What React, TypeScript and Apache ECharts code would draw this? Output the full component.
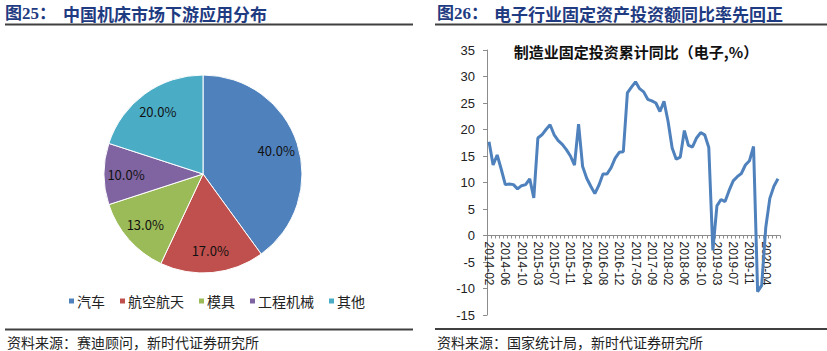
import React, { useEffect, useRef } from "react";
import * as echarts from "echarts";

const pieNames = ["汽车", "航空航天", "模具", "工程机械", "其他"];
const pieValues = [40, 17, 13, 10, 20];
const pieColors = ["#4f81bd", "#c0504d", "#9bbb59", "#8064a2", "#4bacc6"];

const months = [
  "2014-02", "2014-03", "2014-04", "2014-05", "2014-06", "2014-07", "2014-08", "2014-09", "2014-10", "2014-11", "2014-12",
  "2015-02", "2015-03", "2015-04", "2015-05", "2015-06", "2015-07", "2015-08", "2015-09", "2015-10", "2015-11", "2015-12",
  "2016-02", "2016-03", "2016-04", "2016-05", "2016-06", "2016-07", "2016-08", "2016-09", "2016-10", "2016-11", "2016-12",
  "2017-02", "2017-03", "2017-04", "2017-05", "2017-06", "2017-07", "2017-08", "2017-09", "2017-10", "2017-11", "2017-12",
  "2018-02", "2018-03", "2018-04", "2018-05", "2018-06", "2018-07", "2018-08", "2018-09", "2018-10", "2018-11", "2018-12",
  "2019-02", "2019-03", "2019-04", "2019-05", "2019-06", "2019-07", "2019-08", "2019-09", "2019-10", "2019-11", "2019-12",
  "2020-02", "2020-03", "2020-04", "2020-05", "2020-06", "2020-07",
];

const electronicsFaiYoY = [
  17.7, 13.3, 15.2, 12.5, 9.6, 9.7, 9.6, 8.8, 9.4, 9.6, 10.7,
  7.1, 18.4, 19.0, 20.0, 20.9, 19.0, 17.9, 17.2, 16.2, 15.0, 13.3,
  21.0, 13.0, 10.8, 9.3, 7.9, 9.5, 11.6, 11.6, 12.8, 14.6, 15.7,
  15.8, 26.9, 28.0, 29.0, 27.7, 27.1, 25.7, 25.4, 25.0, 23.4, 25.3,
  21.5, 16.5, 14.4, 14.8, 19.8, 17.0, 16.7, 18.4, 19.4, 19.0, 16.6,
  -2.8, 5.6, 6.8, 6.4, 8.5, 10.3, 11.1, 11.7, 13.3, 14.1, 16.8,
  -10.6, -9.4, 1.5, 7.0, 9.3, 10.7,
];

const yMin = -15;
const yMax = 35;
const yStep = 5;

const leftTitleNo = "图25：";
const leftTitle = "中国机床市场下游应用分布";
const rightTitleNo = "图26：";
const rightTitle = "电子行业固定资产投资额同比率先回正";
const lineTitle = "制造业固定投资累计同比（电子,%）";
const leftSource = "资料来源：赛迪顾问，新时代证券研究所";
const rightSource = "资料来源：国家统计局，新时代证券研究所";

const CJK = '"Noto Sans CJK SC", sans-serif';
const HEAD = '"Liberation Serif", "Noto Sans CJK SC", serif';
const headColor = "#1f3b82";

// plot area geometry of the line chart
const plotLeft = 487;
const plotRight = 47;
const plotTop = 50;
const plotBottom = 36;
const plotHeight = 351 - plotTop - plotBottom;
const zeroOffset = (plotHeight * yMax) / (yMax - yMin);

export default function App() {
  const ref = useRef<HTMLDivElement>(null);
  useEffect(() => {
    const chart = echarts.init(ref.current!, null, { renderer: "svg" });
    chart.setOption({
      animation: false,
      backgroundColor: "#ffffff",
      legend: {
        data: pieNames.map((n, i) => ({ name: n, itemStyle: { color: pieColors[i] } })),
        left: 62,
        top: 289,
        icon: "rect",
        itemWidth: 7,
        itemHeight: 7,
        itemGap: 13,
        textStyle: { fontSize: 14, color: "#222", fontFamily: CJK, padding: [0, 0, 0, -3] },
      },
      grid: [
        { left: plotLeft, right: plotRight, top: plotTop, bottom: plotBottom },
        { left: plotLeft, right: plotRight, top: plotTop, height: zeroOffset },
      ],
      xAxis: [
        {
          type: "category",
          gridIndex: 0,
          data: months,
          boundaryGap: true,
          show: false,
        },
        {
          type: "category",
          gridIndex: 1,
          data: months,
          boundaryGap: true,
          position: "bottom",
          axisLine: { show: true, lineStyle: { color: "#8c8c8c", width: 1 } },
          axisTick: { show: true, interval: 0, length: 3, lineStyle: { color: "#8c8c8c" } },
          axisLabel: {
            interval: 3,
            rotate: -90,
            fontSize: 12,
            color: "#222",
            fontFamily: '"Liberation Sans", Arial, sans-serif',
            margin: 6,
          },
          splitLine: { show: false },
        },
      ],
      yAxis: [
        {
          type: "value",
          gridIndex: 0,
          min: yMin,
          max: yMax,
          interval: yStep,
          splitLine: { show: false },
          axisLine: { show: true, lineStyle: { color: "#8c8c8c", width: 1 } },
          axisTick: { show: true, length: 4, lineStyle: { color: "#8c8c8c" } },
          axisLabel: {
            fontSize: 13,
            color: "#222",
            fontFamily: '"Liberation Sans", Arial, sans-serif',
            margin: 12,
          },
        },
        { type: "value", gridIndex: 1, show: false, min: 0, max: yMax },
      ],
      series: [
        {
          type: "pie",
          center: [203, 174],
          radius: [0, 99],
          startAngle: 90,
          clockwise: true,
          silent: true,
          data: pieNames.map((n, i) => ({ name: n, value: pieValues[i], itemStyle: { color: pieColors[i] } })),
          itemStyle: { borderColor: "#ffffff", borderWidth: 1 },
          label: { show: false },
          labelLine: { show: false },
        },
        {
          type: "pie",
          center: [203, 174],
          radius: [49, 99],
          startAngle: 90,
          clockwise: true,
          silent: true,
          legendHoverLink: false,
          data: pieNames.map((n, i) => ({ name: n, value: pieValues[i], itemStyle: { color: "rgba(0,0,0,0)" } })),
          itemStyle: { borderWidth: 0 },
          label: {
            show: true,
            position: "inside",
            formatter: (p: any) => Number(p.value).toFixed(1) + "%",
            fontSize: 13,
            color: "#111",
            fontFamily: CJK,
          },
          labelLine: { show: false },
        },
        {
          type: "line",
          xAxisIndex: 0,
          yAxisIndex: 0,
          data: electronicsFaiYoY,
          symbol: "none",
          showSymbol: false,
          lineStyle: { color: "#4f81bd", width: 3 },
          itemStyle: { color: "#4f81bd" },
        },
      ],
      graphic: [
        { type: "text", x: 5, y: 13, style: { text: leftTitleNo, fill: headColor, fontSize: 17, fontWeight: "bold", fontFamily: HEAD, verticalAlign: "middle" } },
        { type: "text", x: 63, y: 13, style: { text: leftTitle, fill: headColor, fontSize: 17, fontWeight: "bold", fontFamily: CJK, verticalAlign: "middle" } },
        { type: "text", x: 437, y: 13, style: { text: rightTitleNo, fill: headColor, fontSize: 17, fontWeight: "bold", fontFamily: HEAD, verticalAlign: "middle" } },
        { type: "text", x: 494, y: 13, style: { text: rightTitle, fill: headColor, fontSize: 17, fontWeight: "bold", fontFamily: CJK, verticalAlign: "middle" } },
        { type: "rect", shape: { x: 5, y: 23.5, width: 408, height: 2 }, style: { fill: "#404040" } },
        { type: "rect", shape: { x: 435, y: 23.5, width: 392, height: 2 }, style: { fill: "#404040" } },
        { type: "rect", shape: { x: 5, y: 328.5, width: 408, height: 2 }, style: { fill: "#404040" } },
        { type: "rect", shape: { x: 435, y: 328, width: 392, height: 2 }, style: { fill: "#404040" } },
        { type: "text", x: 7, y: 342, style: { text: leftSource, fill: "#222", fontSize: 14, fontFamily: CJK, verticalAlign: "middle" } },
        { type: "text", x: 437, y: 342, style: { text: rightSource, fill: "#222", fontSize: 14, fontFamily: CJK, verticalAlign: "middle" } },
        { type: "text", x: 636, y: 51, style: { text: lineTitle, fill: "#111", fontSize: 15, fontWeight: "bold", fontFamily: CJK, align: "center", verticalAlign: "middle" } },
      ],
    });
    return () => chart.dispose();
  }, []);
  return (
    <div
      ref={ref}
      style={{ position: "absolute", left: 0, top: 0, width: 827, height: 351, background: "#fff" }}
    />
  );
}
